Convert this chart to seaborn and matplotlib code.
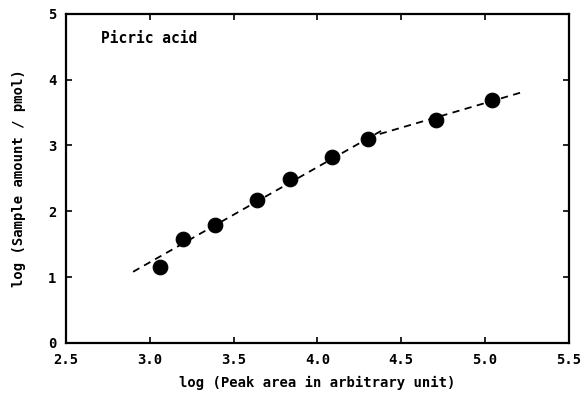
import matplotlib
matplotlib.use("Agg")
import matplotlib.pyplot as plt
import pandas as pd
import seaborn as sns

# measured points
log_area = [3.06, 3.20, 3.39, 3.64, 3.835, 4.09, 4.30, 4.71, 5.04]
log_amount = [1.16, 1.58, 1.79, 2.17, 2.49, 2.82, 3.10, 3.39, 3.69]

# dashed fit segments (endpoints)
fit1_x = [2.90, 4.38]
fit1_y = [1.08, 3.22]
fit2_x = [4.30, 5.21]
fit2_y = [3.12, 3.80]

x_ticks = [2.5, 3.0, 3.5, 4.0, 4.5, 5.0, 5.5]
y_ticks = [0, 1, 2, 3, 4, 5]

sns.set_theme(style="ticks")
plt.rcParams['font.family'] = ['DejaVu Sans Mono', 'DejaVu Sans']

df = pd.DataFrame({'x': log_area, 'y': log_amount})

fig, ax = plt.subplots(figsize=(5.85, 3.95), dpi=100)
fig.subplots_adjust(left=0.113, right=0.972, top=0.965, bottom=0.132)

sns.lineplot(x=fit1_x, y=fit1_y, ax=ax, color='black', linestyle=(0, (4, 3)), lw=1.3)
sns.lineplot(x=fit2_x, y=fit2_y, ax=ax, color='black', linestyle=(0, (4, 3)), lw=1.3)
sns.scatterplot(data=df, x='x', y='y', ax=ax, color='black', s=110, edgecolor='black', zorder=3)

ax.set_xlim(2.5, 5.5)
ax.set_ylim(0, 5)
ax.set_xticks(x_ticks)
ax.set_xticklabels([f"{t:.1f}" for t in x_ticks])
ax.set_yticks(y_ticks)
ax.tick_params(direction='in', top=True, right=True, length=4, width=1.2,
               labelsize=10, pad=7, colors='black')
for lab in ax.get_xticklabels() + ax.get_yticklabels():
    lab.set_fontweight('bold')
for sp in ax.spines.values():
    sp.set_linewidth(1.6)
    sp.set_color('black')

ax.set_xlabel('log (Peak area in arbitrary unit)', fontsize=10, fontweight='bold',
              color='black', labelpad=7)
ax.set_ylabel('log (Sample amount / pmol)', fontsize=10, fontweight='bold',
              color='black', labelpad=16)
ax.text(0.07, 0.91, 'Picric acid', transform=ax.transAxes, fontsize=10.5,
        fontweight='bold', color='black')

fig.savefig('out.png', dpi=100)
